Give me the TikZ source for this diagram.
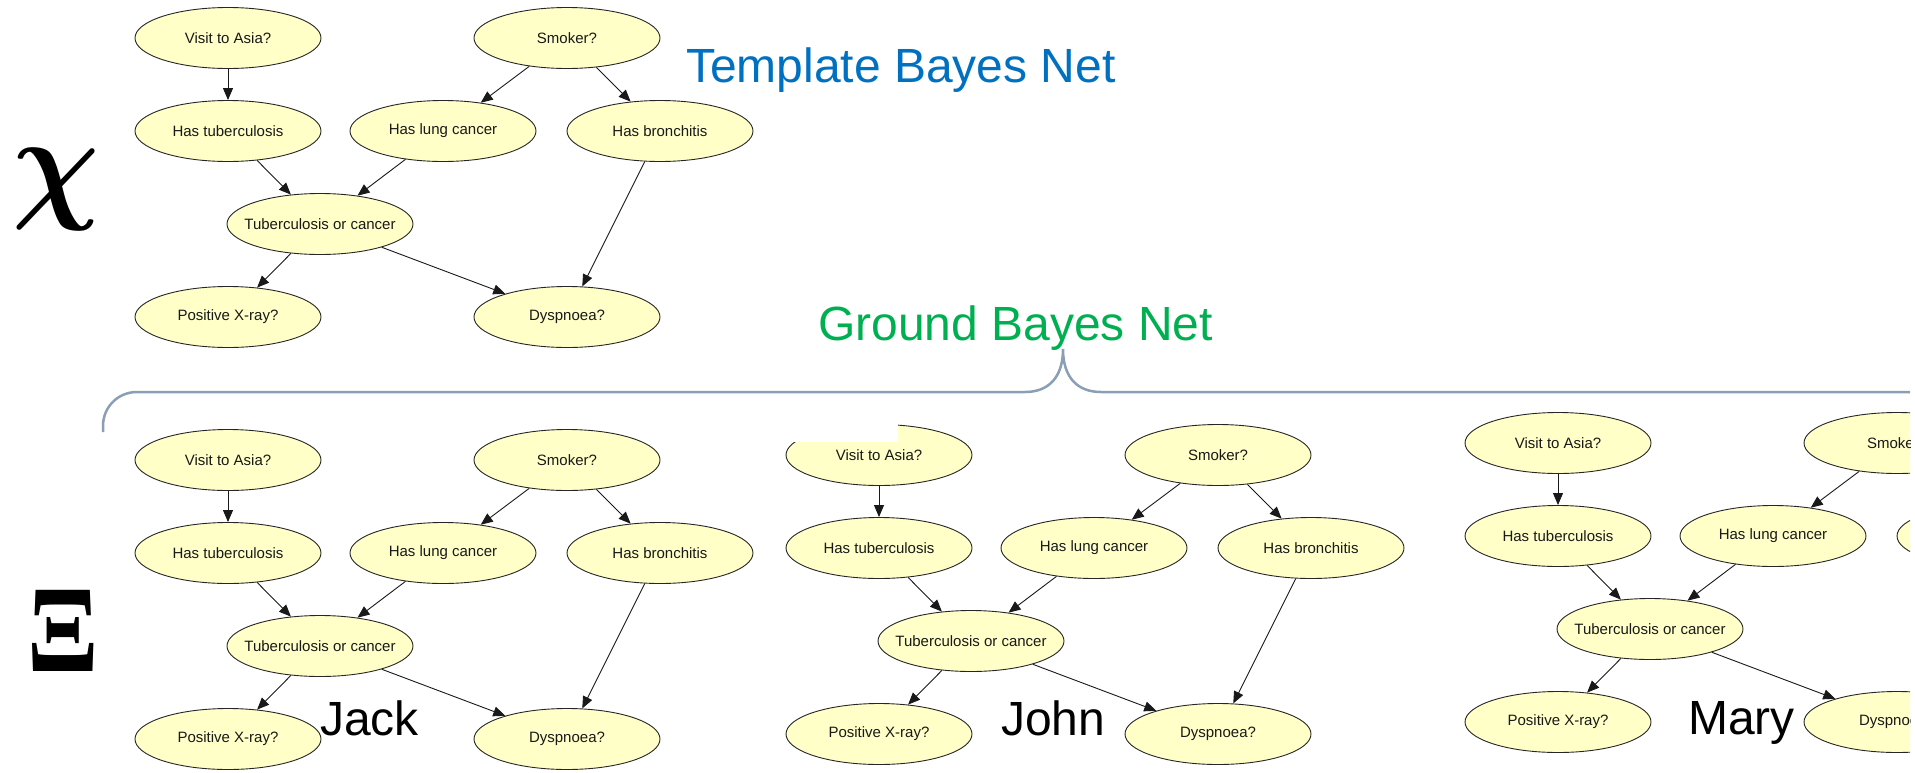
\RequirePackage{fix-cm}
\documentclass[tikz,border=0pt]{standalone}
\usepackage{bm}
\usepackage{fontspec}
\setmainfont{Liberation Sans}
\newfontfamily\xiserif{Liberation Serif}
\usetikzlibrary{shapes.geometric,arrows.meta}

\definecolor{nodeyellow}{RGB}{255,255,200}
\definecolor{titleblue}{RGB}{0,112,192}
\definecolor{groundgreen}{RGB}{0,176,80}
\definecolor{bracegray}{RGB}{138,158,180}

\tikzset{
  bnvar/.style={ellipse, draw=black!85, line width=0.9pt, fill=nodeyellow,
    minimum width=186pt, minimum height=61pt, inner xsep=-50pt, inner ysep=0pt,
    font=\fontsize{15}{15}\selectfont, text=black!90},
  bnarc/.style={-{Triangle[length=12pt,width=10pt]}, line width=0.9pt, black!90},
  bigword/.style={anchor=base west, inner sep=0pt, font=\fontsize{48}{48}\selectfont},
}

\begin{document}
\begin{tikzpicture}[x=1pt,y=-1pt]
\useasboundingbox (0,0) rectangle (1915,772);
\begin{scope}
\clip (0,0) rectangle (1910,772);

% template net and the three ground copies
\foreach \n/\dx/\dy in {tmpl/0/0, jack/0/422, john/651/417, mary/1330/405}{
  \begin{scope}[shift={(\dx,\dy)}]
    \node[bnvar] (\n-asia)   at (228,38)  {Visit to Asia?};
    \node[bnvar] (\n-smoke)  at (567,38)  {Smoker?};
    \node[bnvar] (\n-tub)    at (228,131) {Has tuberculosis};
    \node[bnvar] (\n-lung)   at (443,131) {Has lung cancer};
    \node[bnvar] (\n-bronch) at (660,131) {Has bronchitis};
    \node[bnvar] (\n-either) at (320,224) {Tuberculosis or cancer};
    \node[bnvar] (\n-xray)   at (228,317) {Positive X-ray?};
    \node[bnvar] (\n-dysp)   at (567,317) {Dyspnoea?};
  \end{scope}
  \draw[bnarc] (\n-asia) -- (\n-tub);
  \draw[bnarc] (\n-smoke) -- (\n-lung);
  \draw[bnarc] (\n-smoke) -- (\n-bronch);
  \draw[bnarc] (\n-tub) -- (\n-either);
  \draw[bnarc] (\n-lung) -- (\n-either);
  \draw[bnarc] (\n-either) -- (\n-xray);
  \draw[bnarc] (\n-either) -- (\n-dysp);
  \draw[bnarc] (\n-bronch) -- (\n-dysp);
}

% pasted screenshot edge over John's first node
\fill[white] (770,400) rectangle (898,442);

% brace
\draw[bracegray, line width=2.5pt] (103,432) -- (103,426)
  .. controls (103,407) and (118,392) .. (137,392) -- (1025,392)
  .. controls (1048,392) and (1063,378) .. (1063,349)
  .. controls (1063,378) and (1078,392) .. (1101,392) -- (1915,392);
\end{scope}

\node[bigword, text=titleblue] (tmpltitle) at (686,82) {Template Bayes Net};
\node[bigword, text=groundgreen] (groundtitle) at (818,340) {Ground Bayes Net};
\node[bigword] (jackname) at (320,735) {Jack};
\node[bigword] (johnname) at (1001,735) {John};
\node[bigword] (maryname) at (1688,734) {Mary};

\node[xscale=0.95, font=\fontsize{128}{128}\selectfont] (chi) at (56,189) {$\bm{\chi}$};
\node[xscale=0.85] (xi) at (63,631) {\xiserif\bfseries\fontsize{124}{124}\selectfont Ξ};
\end{tikzpicture}
\end{document}
